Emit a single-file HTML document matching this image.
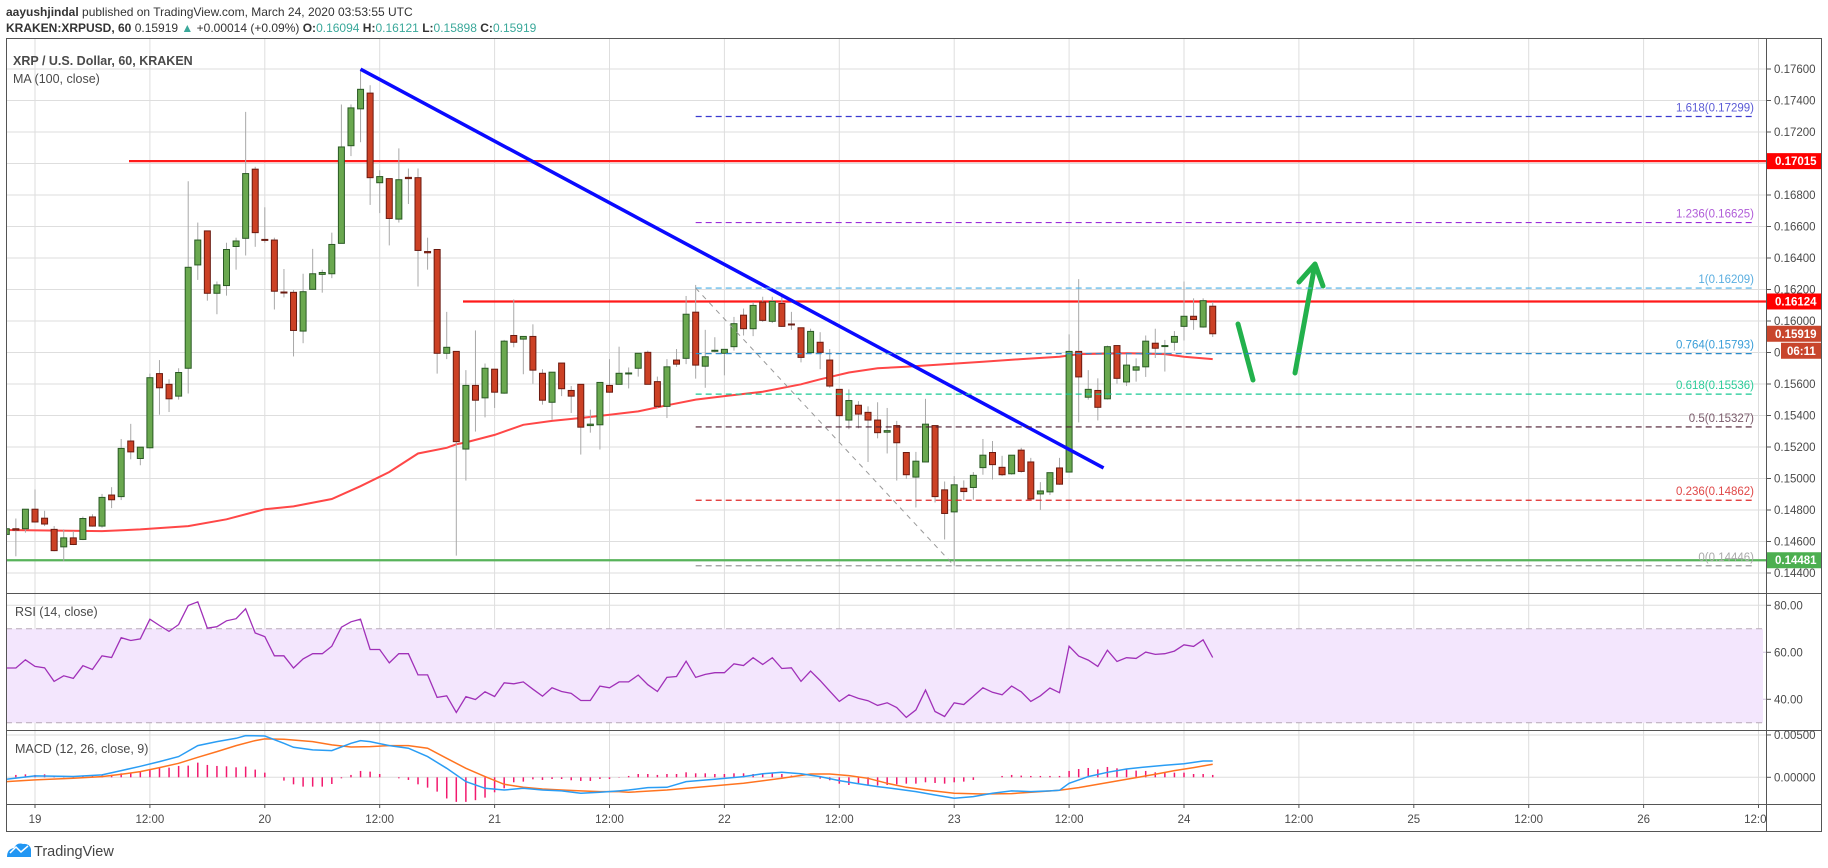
<!DOCTYPE html>
<html><head><meta charset="utf-8">
<style>
html,body{margin:0;padding:0;background:#fff;width:1828px;height:868px;overflow:hidden;font-family:"Liberation Sans",sans-serif;}
#hdr1{position:absolute;left:6px;top:5px;font-size:12px;color:#333;}
#hdr2{position:absolute;left:6px;top:21px;font-size:12px;color:#333;}
.tl{color:#3aa89a}
svg{position:absolute;left:0;top:0}
</style></head>
<body>
<div id="hdr1"><b>aayushjindal</b> published on TradingView.com, March 24, 2020 03:53:55 UTC</div>
<div id="hdr2"><b>KRAKEN:XRPUSD, 60</b> 0.15919 <span class="tl">▲</span> +0.00014 (+0.09%) <b>O:</b><span class="tl">0.16094</span> <b>H:</b><span class="tl">0.16121</span> <b>L:</b><span class="tl">0.15898</span> <b>C:</b><span class="tl">0.15919</span></div>
<svg id="chart" width="1828" height="868" xmlns="http://www.w3.org/2000/svg"></svg>
<script>
const openP=[.14645,.14681,.14681,.14805,.14748,.14677,.14566,.14623,.14613,.14756,.14698,.14895,.14885,.15238,.15127,.15195,.15666,.15598,.15523,.15700,.16356,.16572,.16176,.16225,.16473,.16525,.16964,.16518,.16514,.16184,.16182,.15936,.16201,.16296,.16300,.16493,.17113,.17347,.17447,.16878,.16904,.16647,.16912,.16910,.16441,.16454,.15795,.15807,.15187,.15591,.15512,.15694,.15542,.15908,.15885,.15902,.15668,.15484,.15733,.15559,.15598,.15336,.15341,.15591,.15598,.15666,.15700,.15801,.15615,.15458,.15752,.15763,.16056,.15713,.15810,.15795,.15837,.16037,.15951,.16120,.15998,.16111,.15981,.15957,.15799,.15865,.15752,.15566,.15371,.15465,.15420,.15371,.15294,.15336,.15165,.15009,.15105,.15336,.14928,.14788,.14938,.14943,.15069,.15165,.15071,.15030,.15180,.15105,.14902,.14915,.15067,.15041,.15807,.15516,.15559,.15506,.15844,.15613,.15688,.15709,.15859,.15840,.15865,.15966,.16030,.15962,.16094];
const highP=[.14688,.14746,.14805,.14930,.14795,.14698,.14677,.14666,.14758,.14773,.14902,.14945,.15251,.15347,.15199,.15666,.15752,.15630,.15700,.16887,.16625,.16572,.16251,.16497,.16529,.17328,.16979,.16722,.16529,.16330,.16197,.16300,.16458,.16326,.16561,.17375,.17375,.17599,.17497,.16957,.16904,.17096,.16968,.16968,.16529,.16454,.16058,.15807,.15688,.15940,.15730,.15694,.15880,.16137,.15902,.15979,.15694,.15675,.15733,.15587,.15598,.15437,.15610,.15758,.15837,.15705,.15795,.15812,.15647,.15758,.15822,.16159,.16229,.15944,.15897,.15820,.16026,.16079,.16120,.16154,.16154,.16154,.16058,.15957,.15951,.15929,.15822,.15566,.15566,.15491,.15458,.15484,.15448,.15366,.15165,.15169,.15506,.15336,.14981,.15015,.14988,.15041,.15251,.15238,.15144,.15148,.15195,.15131,.14977,.15037,.15131,.15915,.16266,.15688,.15636,.15844,.15844,.15795,.15763,.15908,.15951,.15880,.15936,.16251,.16144,.16144,.16121];
const lowP=[.14643,.14506,.14656,.14720,.14698,.14538,.14474,.14577,.14609,.14694,.14688,.14812,.14863,.15122,.15084,.15191,.15405,.15422,.15501,.15540,.16261,.16129,.16043,.16161,.16326,.16416,.16471,.16497,.16073,.16150,.15775,.15859,.16201,.16180,.16272,.16493,.17047,.17135,.16737,.16685,.16480,.16625,.16743,.16219,.16326,.15666,.15758,.14510,.14987,.15298,.15388,.15448,.15538,.15833,.15662,.15602,.15469,.15373,.15523,.15416,.15152,.15291,.15184,.15544,.15598,.15572,.15647,.15598,.15448,.15384,.15709,.15726,.15634,.15576,.15801,.15655,.15812,.15908,.15904,.15994,.15987,.15962,.15944,.15737,.15790,.15694,.15576,.15234,.15313,.15319,.15105,.15255,.15159,.14987,.14998,.14816,.15105,.14848,.14613,.14446,.14863,.14865,.15024,.14994,.15015,.15024,.15037,.14865,.14801,.14895,.14960,.15041,.15356,.15501,.15369,.15501,.15602,.15587,.15615,.15645,.15765,.15679,.15812,.15876,.15944,.15957,.15898];
const closeP=[.14681,.14673,.14805,.14724,.14711,.14542,.14623,.14581,.14746,.14698,.14880,.14865,.15191,.15169,.15199,.15640,.15576,.15506,.15673,.16341,.16514,.16176,.16229,.16454,.16508,.16936,.16561,.16512,.16189,.16180,.15940,.16186,.16300,.16308,.16486,.17105,.17353,.17471,.16910,.16917,.16651,.16897,.16904,.16448,.16433,.15795,.15833,.15234,.15591,.15497,.15700,.15548,.15872,.15865,.15902,.15688,.15497,.15675,.15570,.15523,.15326,.15345,.15610,.15548,.15668,.15670,.15795,.15598,.15458,.15709,.15726,.16043,.15720,.15773,.15814,.15820,.15983,.15951,.16099,.16004,.16124,.15966,.15977,.15769,.15934,.15801,.15587,.15399,.15495,.15409,.15371,.15291,.15304,.15227,.15024,.15110,.15345,.14885,.14778,.14960,.14917,.15020,.15148,.15088,.15024,.15148,.15045,.14870,.14921,.15037,.14964,.15807,.15645,.15566,.15452,.15837,.15636,.15720,.15709,.15872,.15827,.15844,.15902,.16030,.16009,.16129,.15919];
const maIdx=[0,10,14,19,23,27,30,34,37,40,43,46,47,48,51,54,57,60,63,66,69,72,75,79,83,85,88,91,94,98,102,106,110,112,117,121,123,126];
const maVals=[.14673,.14666,.14677,.14698,.14741,.14805,.14823,.14870,.14951,.15041,.15159,.15195,.15217,.15229,.15277,.15341,.15366,.15384,.15405,.15426,.15465,.15501,.15523,.15551,.15598,.15630,.15673,.15700,.15709,.15726,.15741,.15758,.15773,.15790,.15795,.15790,.15773,.15758];
const rsiVals=[53.3,53.3,56.8,54.0,53.4,47.6,50.0,48.9,54.3,52.7,58.5,57.8,66.2,65.0,65.7,74.1,71.4,68.9,71.8,79.9,81.5,70.3,70.9,73.4,74.3,78.5,68.2,66.7,58.5,58.5,53.3,57.2,59.4,59.4,62.6,70.7,73.0,74.1,61.2,61.2,55.5,59.4,59.4,50.4,50.4,40.8,41.5,34.4,41.1,39.9,43.2,41.2,47.0,46.6,47.4,44.3,41.3,44.9,43.3,42.5,39.5,39.5,45.6,44.9,47.4,
47.4,50.3,46.2,43.3,49.3,49.7,56.2,49.3,50.6,51.3,51.3,55.1,54.4,57.7,54.8,57.7,53.1,53.4,47.6,52.0,48.0,43.5,39.1,41.9,40.4,39.4,37.4,38.5,36.5,32.3,35.5,43.9,34.8,32.7,38.5,37.8,41.3,44.9,43.0,41.9,45.6,43.2,39.1,41.5,44.8,42.8,62.6,58.4,56.7,54.0,60.9,56.1,57.7,57.4,60.1,59.1,59.4,60.5,63.2,62.5,65.3,57.8];
const histVals=[0.28,0.28,0.35,0.28,0.35,0.16,0.08,0.12,0.16,0.2,0.2,0.28,0.47,0.55,0.67,0.98,1.14,1.14,1.34,1.38,1.73,1.46,1.34,1.30,1.18,1.26,0.91,0.55,0,-0.39,-0.83,-1.10,-1.10,-1.10,-0.79,-0.12,0.28,0.75,0.67,0.39,0,-0.12,-0.31,-0.83,-1.22,-1.69,-2.5,-2.9,-2.9,-2.7,-2.4,-1.77,-1.30,-0.59,-0.51,-0.24,-0.31,-0.20,-0.20,-0.35,-0.43,-0.43,-0.20,-0.20,-0.04,
0.16,0.39,0.39,0.28,0.39,0.39,0.59,0.47,0.47,0.39,0.39,0.47,0.47,0.39,0.39,0.47,0.39,0.2,0,0,-0.16,-0.35,-0.75,-0.91,-0.75,-0.98,-0.98,-0.91,-0.83,-0.75,-0.75,-0.59,-0.67,-0.75,-0.59,-0.51,-0.31,0,0,0.16,0.28,0.2,0.16,0.16,0.16,0.16,0.75,0.98,1.10,0.94,1.22,1.06,0.98,0.79,0.75,0.59,0.55,0.55,0.55,0.39,0.39,0.28];
const macdIdx=[0,3,7,10,12,14,16,18,20,22,24,25,27,29,30,32,34,36,37,38,40,42,44,46,48,50,52,54,56,58,60,62,64,65,67,69,71,74,77,79,81,83,85,87,89,91,93,95,97,99,101,103,105,107,109,110,111,113,115,117,119,121,123,125,126];
const macdVals=[-0.24,0.16,0.1,0.28,0.79,1.30,1.85,2.44,3.74,4.21,4.61,4.92,4.88,4.02,3.54,3.23,3.15,4.02,4.33,4.21,3.74,3.43,2.44,1.06,-0.51,-1.30,-1.50,-1.30,-1.5,-1.61,-1.89,-1.77,-1.61,-1.5,-1.22,-1.18,-0.51,-0.24,0.08,0.43,0.59,0.43,0.08,-0.39,-0.75,-1.1,-1.38,-1.69,-2.09,-2.48,-2.28,-1.89,-1.61,-1.69,-1.61,-1.54,-0.71,0.08,0.59,0.98,1.22,1.42,1.61,1.93,1.93];
const signalIdx=[0,3,7,10,12,14,16,18,20,22,24,26,27,29,32,34,36,38,40,42,44,46,48,50,52,54,56,58,60,62,64,65,69,73,77,81,84,86,88,90,92,94,96,99,102,105,108,110,112,115,118,120,122,124,126];
const signalVals=[-0.51,-0.31,-0.12,0.08,0.35,0.67,1.14,1.65,2.36,3.03,3.74,4.33,4.53,4.49,4.21,3.82,3.58,3.62,3.74,3.74,3.43,2.24,1.06,0.08,-0.83,-1.18,-1.38,-1.5,-1.61,-1.69,-1.69,-1.77,-1.5,-1.1,-0.71,-0.12,0.39,0.39,0.2,-0.12,-0.71,-1.18,-1.50,-1.89,-1.97,-1.93,-1.69,-1.54,-1.22,-0.63,-0.04,0.35,0.79,1.14,1.54];
const timeLabels=["19","12:00","20","12:00","21","12:00","22","12:00","23","12:00","24","12:00","25","12:00","26","12:00"];
const hLevels=[0.17015,0.16124,0.14481];
const fibRatios=[1.618,1.236,1,0.764,0.618,0.5,0.236,0];
const fibHigh=0.16209, fibLow=0.14446, fibStartIdx=72, fibLowIdx=99;
const trendStart=[37,0.17599], trendEnd=[114.6,0.15067];

const NS="http://www.w3.org/2000/svg";
const svg=document.getElementById('chart');
function mk(tag,attrs,parent){const e=document.createElementNS(NS,tag);for(const k in attrs)e.setAttribute(k,attrs[k]);(parent||svg).appendChild(e);return e;}
const L=6,R=1766,MT=38,MB=593,RT=593,RB=730,MCT=730,MCB=804;
const xOf=j=>35+(j-3)*9.575;
const yP=p=>69+(0.176-p)*15750;
const yR=v=>652.3-(v-60)*2.35;
const yM=v=>777.3-v*8.47;

const defs=mk('defs',{});
[['cm',MT,MB],['cr',RT,RB],['cmd',MCT,MCB]].forEach(a=>{const c=mk('clipPath',{id:a[0]},defs);mk('rect',{x:L,y:a[1],width:R-L,height:a[2]-a[1]},c);});

const grid=mk('g',{stroke:'#dedede','stroke-width':1});


for(let p=0.144;p<=0.1761;p+=0.002){mk('line',{x1:L,x2:R,y1:yP(p),y2:yP(p)},grid);}
for(let k=0;k<timeLabels.length;k++){const x=35+k*114.9;if(x<R){mk('line',{x1:x,x2:x,y1:MT,y2:MCB},grid);}}
const band=mk('rect',{x:L,y:yR(70),width:1763-L,height:yR(30)-yR(70),fill:'#f3e6fd'});


[80,60,40].forEach(v=>mk('line',{x1:L,x2:R,y1:yR(v),y2:yR(v),stroke:v==80?'#dedede':'#d4c4e0'},grid));
[70,30].forEach(v=>mk('line',{x1:L,x2:1763,y1:yR(v),y2:yR(v),stroke:'#b8aab8','stroke-dasharray':'6,4'}));
[0.005,0].forEach(v=>mk('line',{x1:L,x2:R,y1:yM(v*1000),y2:yM(v*1000),stroke:'#dedede'},grid));

const mg=mk('g',{'clip-path':'url(#cm)'});
const fg=mk('g',{});


const fibCols=['#3a3ad0','#9c2ed8','#48aee6','#2a8ccc','#19c993','#4a1a2e','#e02828','#999'];
const fibTxt=['#5b5bd6','#b05cd8','#5aaee0','#3a9ed8','#2dcc9a','#7a5a6a','#e04848','#aaa'];
fibRatios.forEach((r,i)=>{const p=fibLow+r*(fibHigh-fibLow);const y=yP(p);
 mk('line',{x1:xOf(fibStartIdx),x2:1755,y1:y,y2:y,stroke:fibCols[i],'stroke-width':1.2,'stroke-dasharray':'6,4'},fg);
 const t=mk('text',{x:1754,y:y-5,'text-anchor':'end','font-size':11.5,fill:fibTxt[i],'font-family':'Liberation Sans,sans-serif'},fg);
 t.textContent=r+'('+p.toFixed(5)+')';
 
 
});
mk('line',{x1:xOf(fibStartIdx),y1:yP(fibHigh),x2:xOf(fibLowIdx),y2:yP(fibLow),stroke:'#999','stroke-dasharray':'5,5'},fg);
let maD='';maIdx.forEach((j,i)=>{maD+=(i?'L':'M')+xOf(j).toFixed(1)+','+yP(maVals[i]).toFixed(1);});
const ma=mk('path',{d:maD,fill:'none',stroke:'#ff4747','stroke-width':2},mg);


const hStart=[129,463,L],hCol=['#ff1a1a','#ff1a1a','#57b35a'];
hLevels.forEach((p,i)=>{const ln=mk('line',{x1:hStart[i],x2:R,y1:yP(p),y2:yP(p),stroke:hCol[i],'stroke-width':2.2},mg);
 
 });
const cg=mk('g',{},mg);


for(let j=0;j<openP.length;j++){const x=xOf(j);const up=closeP[j]>=openP[j];
 const w=mk('line',{x1:x,x2:x,y1:yP(highP[j]),y2:yP(lowP[j]),stroke:'#a8a8a8','stroke-width':1},cg);
 
 
 const t=yP(Math.max(openP[j],closeP[j])),b=yP(Math.min(openP[j],closeP[j]));
 const r=mk('rect',{x:x-3,y:t,width:6,height:Math.max(1,b-t),fill:up?'#6aa84f':'#cc4125',stroke:up?'#2a5a24':'#6b1a10','stroke-width':1},cg);
 
 
}
const tl=mk('line',{x1:xOf(trendStart[0]),y1:yP(trendStart[1]),x2:xOf(trendEnd[0]),y2:yP(trendEnd[1]),stroke:'#0a0aff','stroke-width':3.5},mg);


const ag=mk('g',{stroke:'#22b14c','stroke-width':5,fill:'none','stroke-linecap':'round','stroke-linejoin':'round'},mg);


mk('path',{d:'M1238,324 L1253,380'},ag);
mk('path',{d:'M1295,373 L1315,264 M1299,282 L1315,264 L1323,286'},ag);

let rD='';rsiVals.forEach((v,j)=>{rD+=(j?'L':'M')+xOf(j).toFixed(1)+','+yR(v).toFixed(1);});
const rl=mk('path',{d:rD,fill:'none',stroke:'#a030b8','stroke-width':1.3,'clip-path':'url(#cr)'});



const mdg=mk('g',{'clip-path':'url(#cmd)'});


histVals.forEach((v,j)=>{const b=mk('line',{x1:xOf(j),x2:xOf(j),y1:yM(0),y2:yM(v),stroke:'#f2196e','stroke-width':1.5},mdg);
 
 });
let sD='';signalIdx.forEach((j,i)=>{sD+=(i?'L':'M')+xOf(j).toFixed(1)+','+yM(signalVals[i]).toFixed(1);});
const sl=mk('path',{d:sD,fill:'none',stroke:'#ff7420','stroke-width':1.5},mdg);


let mD='';macdIdx.forEach((j,i)=>{mD+=(i?'L':'M')+xOf(j).toFixed(1)+','+yM(macdVals[i]).toFixed(1);});
const ml=mk('path',{d:mD,fill:'none',stroke:'#2a9df4','stroke-width':1.5},mdg);



const bd=mk('g',{stroke:'#555','stroke-width':1,fill:'none'});


mk('rect',{x:L+0.5,y:MT+0.5,width:1821-L,height:831-MT},bd);
mk('line',{x1:R+0.5,x2:R+0.5,y1:MT,y2:831},bd);
[MB,RB,MCB].forEach(y=>mk('line',{x1:L,x2:1821,y1:y+0.5,y2:y+0.5},bd));

const axs={'font-size':11.5,fill:'#4a4a4a','font-family':'Liberation Sans,sans-serif'};
function axisLabel(txt,y,name){mk('line',{x1:R,x2:R+5,y1:y,y2:y,stroke:'#555'});const t=mk('text',Object.assign({x:1774,y:y+4},axs));t.textContent=txt;
 
 }
for(let k=0;k<=16;k++){const p=0.144+k*0.002;axisLabel(p.toFixed(5),yP(p),'price-tick-label');}
[80,60,40].forEach(v=>axisLabel(v.toFixed(2),yR(v),'rsi-tick-label'));
[0.005,0].forEach(v=>axisLabel(v.toFixed(5),yM(v*1000),'macd-tick-label'));
timeLabels.forEach((s,k)=>{const x=35+k*114.9;mk('line',{x1:x,x2:x,y1:MCB,y2:MCB+4,stroke:'#555'});
 const t=mk('text',Object.assign({x:x,y:823,'text-anchor':'middle','clip-path':'url(#ct)'},axs));t.textContent=s;
 
 });
const ct=mk('clipPath',{id:'ct'},defs);mk('rect',{x:L,y:805,width:R-L,height:25},ct);
function badge(txt,y,col,x0,name){const r=mk('rect',{x:x0,y:y-8,width:1821-x0,height:16,fill:col});
 
 
 const t=mk('text',{x:x0+(x0<1770?8:6),y:y+4,'font-size':11.5,'font-weight':'bold',fill:'#fff','font-family':'Liberation Sans,sans-serif'});t.textContent=txt;
 
 }
badge('0.17015',yP(0.17015),'#ff0000',R+1,'level-badge');
badge('0.16124',yP(0.16124),'#ff0000',R+1,'level-badge');
badge('0.15919',yP(0.15919),'#c8452c',R+1,'last-price-badge');
badge('06:11',yP(0.15919)+17,'#c8452c',1781,'countdown-badge');
badge('0.14481',yP(0.14481),'#4caf50',R+1,'level-badge');

function title(txt,x,y,bold,name){const t=mk('text',{x:x,y:y,'font-size':12.5,fill:'#4a4a4a','font-weight':bold?'bold':'normal','font-family':'Liberation Sans,sans-serif'});t.textContent=txt;
 
 }
title('XRP / U.S. Dollar, 60, KRAKEN',13,65,true,'main-pane-title');
title('MA (100, close)',13,83,false,'ma-legend');
title('RSI (14, close)',15,616,false,'rsi-legend');
title('MACD (12, 26, close, 9)',15,753,false,'macd-legend');
const lg=mk('g',{});


mk('path',{d:'M7,857 Q7,849 14,848 Q17,842 23,844 Q29,843 31,849 L31,857 Z',fill:'#2196f3'},lg);
mk('path',{d:'M10,853 L16,847 L21,852 L28,846',fill:'none',stroke:'#fff','stroke-width':1.5},lg);
const lt=mk('text',{x:34,y:856,'font-size':14.5,fill:'#444','font-family':'Liberation Sans,sans-serif'},lg);lt.textContent='TradingView';


</script>
</body></html>
